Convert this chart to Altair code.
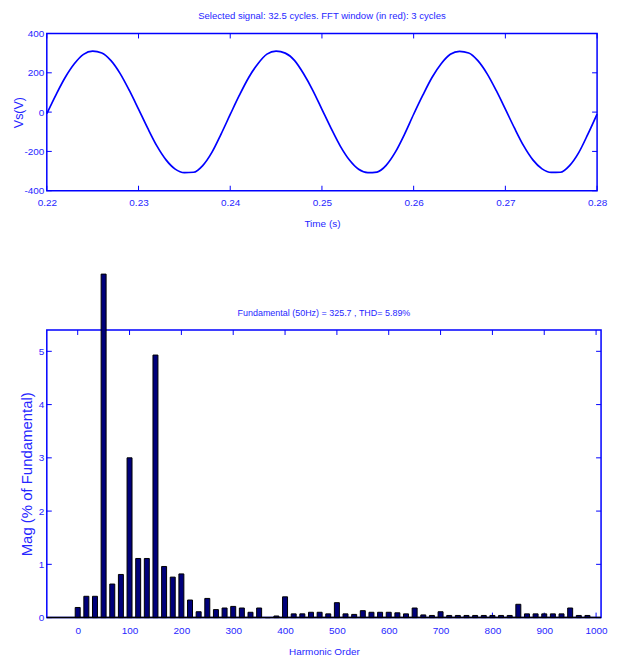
import altair as alt
import pandas as pd

# ---------------- data ----------------
time_s = [0.220, 0.221, 0.222, 0.223, 0.224, 0.225, 0.226, 0.227, 0.228, 0.229,
          0.230, 0.231, 0.232, 0.233, 0.234, 0.235, 0.236, 0.237, 0.238, 0.239,
          0.240, 0.241, 0.242, 0.243, 0.244, 0.245, 0.246, 0.247, 0.248, 0.249,
          0.250, 0.251, 0.252, 0.253, 0.254, 0.255, 0.256, 0.257, 0.258, 0.259,
          0.260, 0.261, 0.262, 0.263, 0.264, 0.265, 0.266, 0.267, 0.268, 0.269,
          0.270, 0.271, 0.272, 0.273, 0.274, 0.275, 0.276, 0.277, 0.278, 0.279,
          0.280]
volts = [-8, 88, 176, 246, 294, 310, 301, 262, 196, 110,
         15, -82, -172, -243, -290, -308, -306, -272, -205, -112,
         -12, 86, 175, 245, 295, 310, 300, 263, 195, 111,
         14, -83, -173, -244, -291, -308, -305, -271, -204, -113,
         -11, 86, 176, 246, 294, 309, 301, 262, 196, 110,
         15, -82, -172, -243, -289, -307, -306, -272, -206, -112,
         -10]

harm_order = [0, 16.67, 33.33, 50, 66.67, 83.33, 100, 116.67, 133.33, 150,
              166.67, 183.33, 200, 216.67, 233.33, 250, 266.67, 283.33, 300, 316.67,
              333.33, 350, 366.67, 383.33, 400, 416.67, 433.33, 450, 466.67, 483.33,
              500, 516.67, 533.33, 550, 566.67, 583.33, 600, 616.67, 633.33, 650,
              666.67, 683.33, 700, 716.67, 733.33, 750, 766.67, 783.33, 800, 816.67,
              833.33, 850, 866.67, 883.33, 900, 916.67, 933.33, 950, 966.67, 983.33]
harm_mag = [0.19, 0.40, 0.40, 6.45, 0.63, 0.81, 3.00, 1.11, 1.11, 4.93,
            0.96, 0.76, 0.82, 0.33, 0.11, 0.36, 0.15, 0.18, 0.21, 0.18,
            0.10, 0.18, 0.00, 0.03, 0.39, 0.07, 0.07, 0.10, 0.10, 0.07,
            0.28, 0.07, 0.06, 0.13, 0.10, 0.10, 0.10, 0.09, 0.07, 0.18,
            0.05, 0.04, 0.11, 0.04, 0.04, 0.04, 0.04, 0.04, 0.04, 0.04,
            0.04, 0.25, 0.07, 0.07, 0.07, 0.07, 0.07, 0.18, 0.04, 0.04]

time_ticks = [0.22, 0.23, 0.24, 0.25, 0.26, 0.27, 0.28]
volt_ticks = [-400, -200, 0, 200, 400]
order_ticks = [0, 100, 200, 300, 400, 500, 600, 700, 800, 900, 1000]
mag_ticks = [0, 1, 2, 3, 4, 5]

title_top = ["Selected signal: 32.5 cycles. FFT window (in red): 3 cycles"]
title_bot = ["Fundamental (50Hz) = 325.7 , THD= 5.89%"]

# ---------------- style ----------------
BLUE = "#0000ff"
TXT = "#2626ff"
FONT = "Liberation Sans"
W1, H1 = 553, 158
W2, H2 = 557, 289
TL = 5

def ax(**kw):
    base = dict(ticks=False, tickSize=0, domain=False, grid=False,
                labelColor=TXT, labelFont=FONT, labelFontSize=10,
                titleColor=TXT, titleFont=FONT, titleFontSize=10,
                titleFontWeight="normal", labelFlush=False, labelOverlap=False)
    base.update(kw)
    return alt.Axis(**base)

neg_expr = "datum.value < 0 ? '-' + format(-datum.value, 'd') : format(datum.value, 'd')"

# ---------------- top panel ----------------
wave = pd.DataFrame({"t": time_s, "v": volts})
xs1 = alt.Scale(domain=[0.22, 0.28], nice=False, zero=False)
ys1 = alt.Scale(domain=[-400, 400], nice=False, zero=False)
x1 = alt.X("t:Q", scale=xs1,
           axis=ax(values=time_ticks, format=".2f", title="Time (s)",
                   labelPadding=7, titleX=W1 / 2, titleY=28, titleBaseline="top"))
y1 = alt.Y("v:Q", scale=ys1,
           axis=ax(values=volt_ticks, labelExpr=neg_expr, title="Vs(V)",
                   titleFontSize=12.5,
                   labelPadding=3, titleX=-21, titleY=H1 / 2, titleBaseline="bottom"))

line = alt.Chart(wave).mark_line(color=BLUE, strokeWidth=1.7,
                                 interpolate="monotone").encode(x=x1, y=y1)
xt1 = pd.DataFrame({"t": time_ticks})
yt1 = pd.DataFrame({"v": volt_ticks})
xtick_b1 = alt.Chart(xt1).mark_rule(color=BLUE, strokeWidth=1).encode(
    x=x1, y=alt.value(H1), y2=alt.value(H1 - TL))
xtick_t1 = alt.Chart(xt1).mark_rule(color=BLUE, strokeWidth=1).encode(
    x=x1, y=alt.value(0), y2=alt.value(TL))
ytick_l1 = alt.Chart(yt1).mark_rule(color=BLUE, strokeWidth=1).encode(
    y=y1, x=alt.value(0), x2=alt.value(TL))
ytick_r1 = alt.Chart(yt1).mark_rule(color=BLUE, strokeWidth=1).encode(
    y=y1, x=alt.value(W1 - TL), x2=alt.value(W1))
ttl1 = alt.Chart(pd.DataFrame({"label": title_top})).mark_text(
    font=FONT, fontSize=9.6, color=TXT, baseline="middle", align="center").encode(
    text="label:N", x=alt.value(W1 / 2), y=alt.value(-18))

top = alt.layer(xtick_b1, xtick_t1, ytick_l1, ytick_r1, line, ttl1).properties(
    width=W1, height=H1)

# ---------------- bottom panel ----------------
bars_df = pd.DataFrame({"order": harm_order, "mag": harm_mag})
xs2 = alt.Scale(domain=[-50, 1000], nice=False, zero=False)
ys2 = alt.Scale(domain=[0, 5.4], nice=False)
x2 = alt.X("order:Q", scale=xs2,
           axis=ax(values=order_ticks, format="d", title="Harmonic Order",
                   labelPadding=8, titleX=W2 / 2, titleY=29, titleBaseline="top"))
y2 = alt.Y("mag:Q", scale=ys2,
           axis=ax(values=mag_ticks, format="d", title="Mag (% of Fundamental)",
                   titleFontSize=15,
                   labelPadding=3, titleX=-12, titleY=H2 / 2, titleBaseline="bottom"))

xt2 = pd.DataFrame({"order": order_ticks})
yt2 = pd.DataFrame({"mag": mag_ticks})
xtick_b2 = alt.Chart(xt2).mark_rule(color=BLUE, strokeWidth=1).encode(
    x=x2, y=alt.value(H2), y2=alt.value(H2 - TL))
xtick_t2 = alt.Chart(xt2).mark_rule(color=BLUE, strokeWidth=1).encode(
    x=x2, y=alt.value(0), y2=alt.value(TL))
ytick_l2 = alt.Chart(yt2).mark_rule(color=BLUE, strokeWidth=1).encode(
    y=y2, x=alt.value(0), x2=alt.value(TL))
ytick_r2 = alt.Chart(yt2).mark_rule(color=BLUE, strokeWidth=1).encode(
    y=y2, x=alt.value(W2 - TL), x2=alt.value(W2))
bars = alt.Chart(bars_df).mark_bar(size=5, fill="#00007a", stroke="black",
                                   strokeWidth=1, clip=False).encode(x=x2, y=y2)
base_df = pd.DataFrame({"mag": [0]})
baseline = alt.Chart(base_df).mark_rule(color="black", strokeWidth=1.5).encode(
    y=y2, x=alt.value(0), x2=alt.value(W2))
ttl2 = alt.Chart(pd.DataFrame({"label": title_bot})).mark_text(
    font=FONT, fontSize=9, color=TXT, baseline="middle", align="center").encode(
    text="label:N", x=alt.value(W2 / 2), y=alt.value(-17.5))

bottom = alt.layer(xtick_b2, xtick_t2, ytick_l2, ytick_r2, bars, baseline, ttl2).properties(
    width=W2, height=H2)

chart = alt.vconcat(top, bottom, spacing=140, bounds="flush").properties(
    padding={"left": 4, "top": 0, "right": 5, "bottom": 2},
    background="white",
).configure_view(stroke=BLUE, strokeWidth=1.5)

chart.save("out.html", embed_options={"renderer": "svg", "actions": False})
